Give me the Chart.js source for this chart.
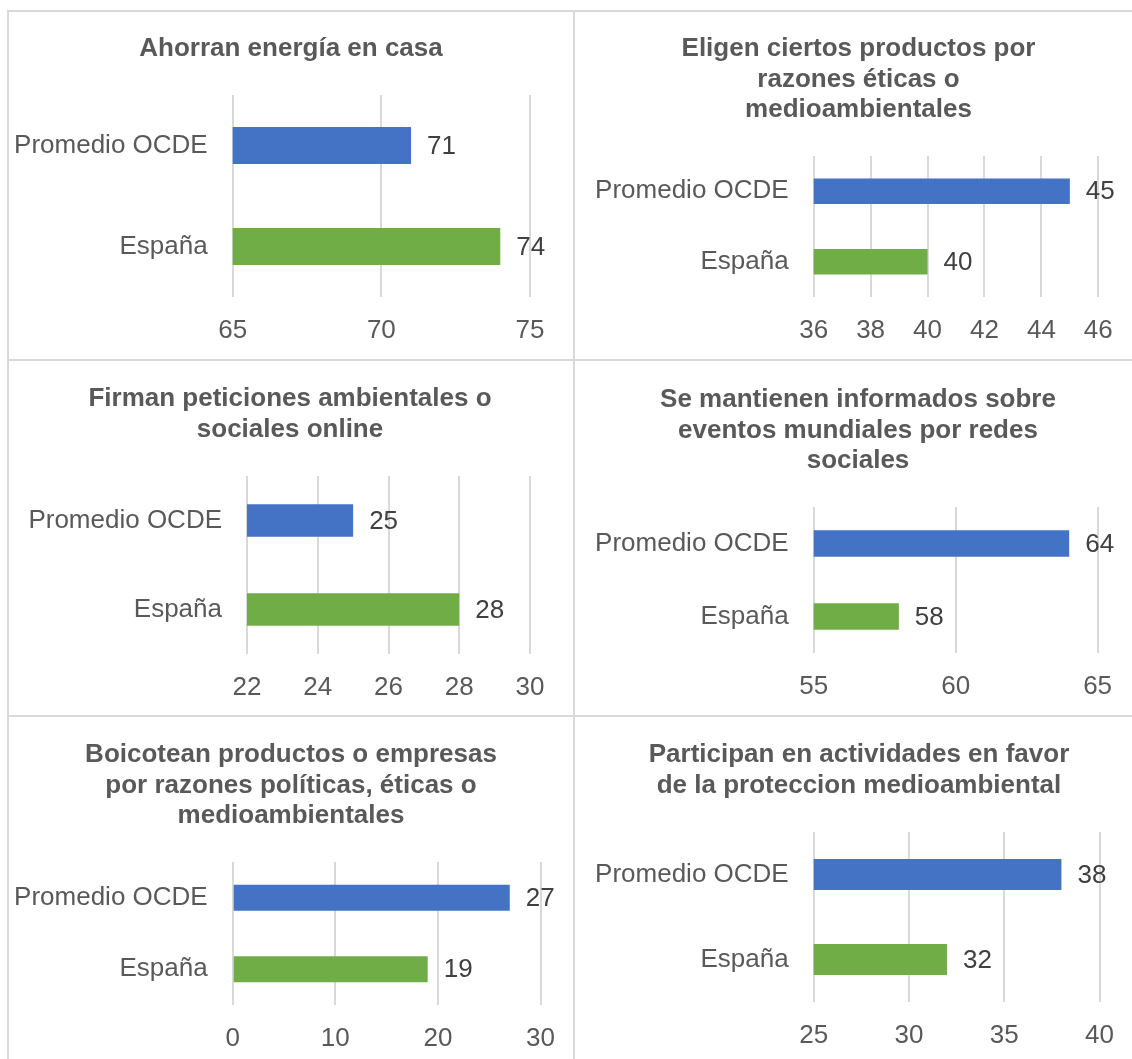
<!DOCTYPE html>
<html lang="es">
<head>
<meta charset="utf-8">
<title>Acciones medioambientales: España y promedio OCDE</title>
<script src="https://cdn.jsdelivr.net/npm/chart.js@4.4.1/dist/chart.umd.min.js"></script>
<style>
	body { margin: 0; background: #fff; }
	#hoja { position: relative; width: 1132px; height: 1059px; overflow: hidden; background: #fff; }
	.linea { position: absolute; background: #d9d9d9; }
	#hoja canvas { position: absolute; }
</style>
</head>
<body>
<div id="hoja">
	<div class="linea" style="left:7px;top:10px;width:2px;height:1049px"></div>
	<div class="linea" style="left:7px;top:10px;width:1125px;height:2px"></div>
	<div class="linea" style="left:573px;top:10px;width:2px;height:1049px"></div>
	<div class="linea" style="left:7px;top:359px;width:1125px;height:2px"></div>
	<div class="linea" style="left:7px;top:715px;width:1125px;height:2px"></div>
</div>
<script>
	// Datos
	const categorias = ['Promedio OCDE', 'España'];

	const titulos = [
		['Ahorran energía en casa'],
		['Eligen ciertos productos por', 'razones éticas o', 'medioambientales'],
		['Firman peticiones ambientales o', 'sociales online'],
		['Se mantienen informados sobre', 'eventos mundiales por redes', 'sociales'],
		['Boicotean productos o empresas', 'por razones políticas, éticas o', 'medioambientales'],
		['Participan en actividades en favor', 'de la proteccion medioambiental']
	];

	const ahorranEnergia = [71, 74];
	const eligenProductos = [45, 40];
	const firmanPeticiones = [25, 28];
	const informadosRedes = [64, 58];
	const boicotean = [27, 19];
	const participan = [38, 32];
	const valores = [ahorranEnergia, eligenProductos, firmanPeticiones, informadosRedes, boicotean, participan];

	// Escalas (marcas del eje horizontal)
	const ejeMin = [65, 36, 22, 55, 0, 25];
	const ejeMax = [75, 46, 30, 65, 30, 40];
	const ejePaso = [5, 2, 2, 5, 10, 5];

	// Posicion de cada grafico en la hoja (gl/gr/gt/gb = zona de la rejilla, tc = centro del titulo, ty = primera linea)
	const paneles = [
		{ x: 9, y: 12, w: 564, h: 347, gl: 223.7, gr: 521, gt: 83, gb: 285, tc: 282, ty: 37 },
		{ x: 575, y: 12, w: 557, h: 347, gl: 238.7, gr: 523.3, gt: 144, gb: 285, tc: 283.5, ty: 37 },
		{ x: 9, y: 361, w: 564, h: 354, gl: 238, gr: 521, gt: 115, gb: 293, tc: 281, ty: 38 },
		{ x: 575, y: 361, w: 557, h: 354, gl: 238.7, gr: 522.6, gt: 146, gb: 292, tc: 283, ty: 39 },
		{ x: 9, y: 717, w: 564, h: 342, gl: 223.7, gr: 532.9, gt: 145, gb: 288, tc: 282, ty: 38 },
		{ x: 575, y: 717, w: 557, h: 342, gl: 238.7, gr: 525, gt: 115, gb: 285, tc: 284, ty: 38 }
	];

	const fuente = "'Liberation Sans', Arial, sans-serif";
	const gris = '#595959';
	const altoLinea = 30.5; // interlineado del titulo

	// Etiqueta con el valor al final de cada barra
	const etiquetasValor = {
		id: 'etiquetasValor',
		afterLayout(chart) {
			// que el eje de categorias no recorte "Promedio OCDE"
			chart.scales.y.left = 0;
		},
		afterDatasetsDraw(chart) {
			const ctx = chart.ctx;
			const datos = chart.data.datasets[0].data;
			ctx.save();
			ctx.font = '26px ' + fuente;
			ctx.fillStyle = '#404040';
			ctx.textAlign = 'left';
			ctx.textBaseline = 'middle';
			chart.getDatasetMeta(0).data.forEach((barra, i) => {
				ctx.fillText(String(datos[i]), barra.x + 16, barra.y + 1);
			});
			ctx.restore();
		}
	};

	const hoja = document.getElementById('hoja');

	paneles.forEach((p, i) => {
		const canvas = document.createElement('canvas');
		canvas.width = p.w;
		canvas.height = p.h;
		canvas.style.left = p.x + 'px';
		canvas.style.top = p.y + 'px';
		canvas.style.width = p.w + 'px';
		canvas.style.height = p.h + 'px';
		hoja.appendChild(canvas);

		const padDer = p.w - p.gr;
		const padIzq = 2 * p.tc - p.gr;
		const lineas = titulos[i].length;
		const tituloArriba = p.ty - altoLinea / 2;
		const tituloAbajo = p.gt - tituloArriba - lineas * altoLinea;

		new Chart(canvas, {
			type: 'bar',
			data: {
				labels: categorias,
				datasets: [{
					data: valores[i],
					backgroundColor: ['#4472C4', '#70AD47'],
					categoryPercentage: 1,
					barPercentage: 0.364
				}]
			},
			options: {
				indexAxis: 'y',
				responsive: false,
				animation: false,
				layout: { padding: { left: padIzq, right: padDer, top: 0, bottom: 0 } },
				plugins: {
					legend: { display: false },
					tooltip: { enabled: false },
					title: {
						display: true,
						text: titulos[i],
						color: gris,
						font: { family: fuente, size: 26, weight: 'bold', lineHeight: altoLinea / 26 },
						padding: { top: tituloArriba, bottom: tituloAbajo }
					}
				},
				scales: {
					x: {
						type: 'linear',
						min: ejeMin[i],
						max: ejeMax[i],
						ticks: { stepSize: ejePaso[i], padding: 18, color: gris, font: { family: fuente, size: 26 } },
						grid: { color: '#d9d9d9', lineWidth: 2, drawTicks: false },
						border: { display: false },
						afterFit: s => { s.height = p.h - p.gb; }
					},
					y: {
						ticks: { padding: 25, color: gris, font: { family: fuente, size: 26 } },
						grid: { display: false, drawTicks: false },
						border: { display: false },
						afterFit: s => { s.width = p.gl - padIzq; }
					}
				}
			},
			plugins: [etiquetasValor]
		});
	});
</script>
</body>
</html>
